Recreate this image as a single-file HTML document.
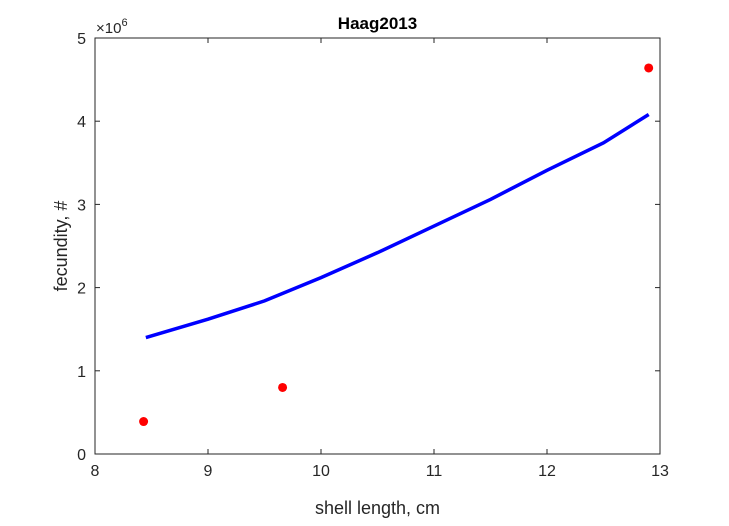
<!DOCTYPE html>
<html><head><meta charset="utf-8"><style>
body{margin:0;background:#fff;}
svg{font-family:"Liberation Sans",Arial,sans-serif;}
</style></head><body>
<svg width="729" height="521" viewBox="0 0 729 521">
<rect x="0" y="0" width="729" height="521" fill="#fff"/>
<g id="axes"></g>
<g id="marks"></g>
</svg>
<script>
const xTicks=[8,9,10,11,12,13];
const yTicks=[0,1,2,3,4,5];
const pointX=[8.43,9.66,12.9];
const pointY=[0.39,0.8,4.64];
const curveX=[8.45,9,9.5,10,10.5,11,11.5,12,12.5,12.9];
const curveY=[1.40,1.62,1.84,2.12,2.42,2.74,3.06,3.41,3.74,4.08];

const L=95,R=660,T=38,B=454;
const sx=v=>L+(v-8)/(13-8)*(R-L);
const sy=v=>B-(v-0)/(5-0)*(B-T);
const NS='http://www.w3.org/2000/svg';
function mk(tag,attrs,parent){const e=document.createElementNS(NS,tag);for(const k in attrs)e.setAttribute(k,attrs[k]);parent.appendChild(e);return e;}
const ax=document.getElementById('axes'),mg=document.getElementById('marks');

const box=mk('rect',{x:L,y:T,width:R-L,height:B-T,fill:'none',stroke:'#262626','stroke-width':1},ax);


xTicks.forEach(v=>{
 const x=sx(v);
 mk('line',{x1:x,y1:B,x2:x,y2:B-5,stroke:'#262626'},ax);
 mk('line',{x1:x,y1:T,x2:x,y2:T+5,stroke:'#262626'},ax);
 const t=mk('text',{x:x,y:B+22,'text-anchor':'middle','font-size':16,fill:'#262626'},ax);
 t.textContent=v;
 
 
});
yTicks.forEach(v=>{
 const y=sy(v);
 mk('line',{x1:L,y1:y,x2:L+5,y2:y,stroke:'#262626'},ax);
 mk('line',{x1:R,y1:y,x2:R-5,y2:y,stroke:'#262626'},ax);
 const t=mk('text',{x:L-9,y:y+6,'text-anchor':'end','font-size':16,fill:'#262626'},ax);
 t.textContent=v;
 
 
});
const ex=mk('text',{x:96,y:33,'font-size':15,fill:'#262626'},ax);
ex.innerHTML='×10<tspan dy="-7" font-size="11">6</tspan>';


const ti=mk('text',{x:(L+R)/2,y:29,'text-anchor':'middle','font-size':17,'font-weight':'bold',fill:'#000'},ax);
ti.textContent='Haag2013';


const xl=mk('text',{x:(L+R)/2,y:514,'text-anchor':'middle','font-size':18,fill:'#262626'},ax);
xl.textContent='shell length, cm';


const yl=mk('text',{x:0,y:0,'text-anchor':'middle','font-size':18,fill:'#262626',transform:`translate(67,${(T+B)/2}) rotate(-90)`},ax);
yl.textContent='fecundity, #';



const pl=mk('polyline',{points:curveX.map((x,i)=>sx(x)+','+sy(curveY[i])).join(' '),fill:'none',stroke:'#0000ff','stroke-width':3.5},mg);


pointX.forEach((x,i)=>{
 const c=mk('circle',{cx:sx(x),cy:sy(pointY[i]),r:4.5,fill:'#ff0000'},mg);
 
 
});
</script>
</body></html>
